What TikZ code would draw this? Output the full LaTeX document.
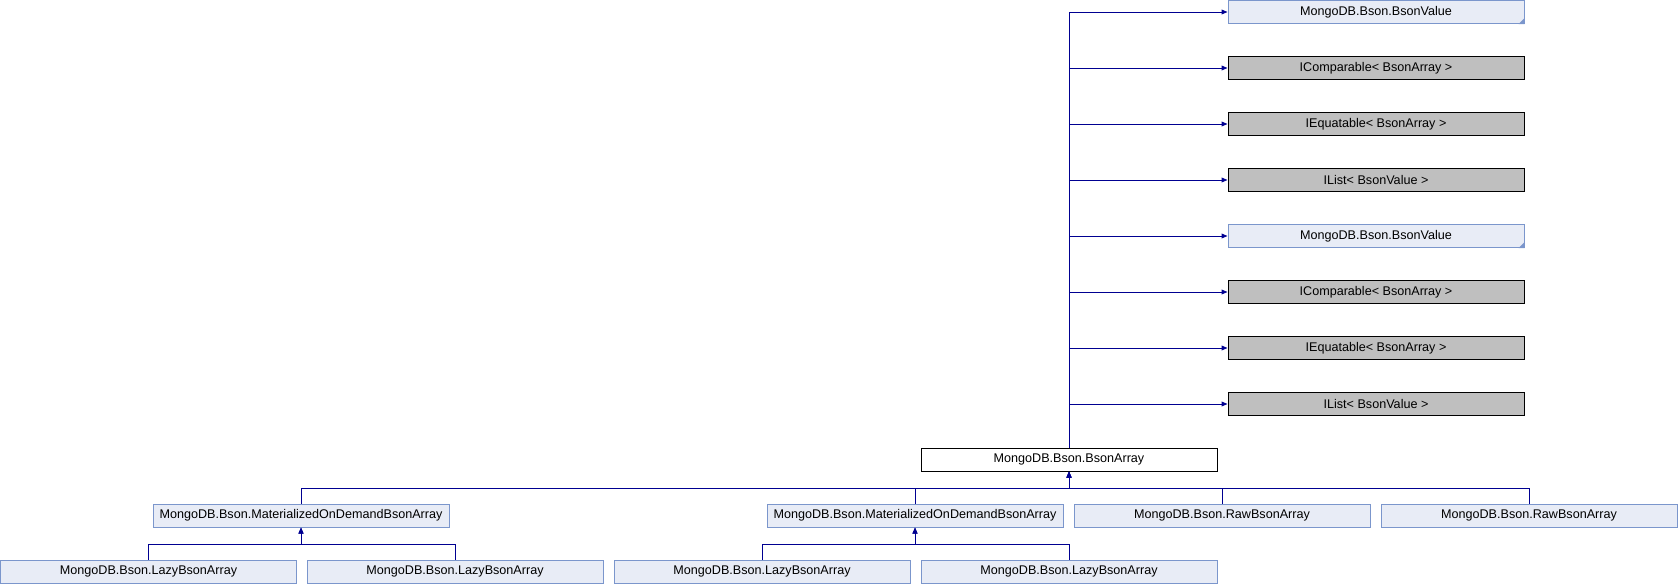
\documentclass[tikz,border=0pt]{standalone}
\usepackage{fontspec}
\setmainfont{Liberation Sans}
\usetikzlibrary{arrows.meta}
\definecolor{classfill}{RGB}{232,236,246}
\definecolor{classline}{RGB}{123,150,204}
\definecolor{extfill}{RGB}{191,191,191}
\definecolor{edgeblue}{RGB}{0,0,145}
\begin{document}
\begin{tikzpicture}[x=.5pt,y=-.5pt,
  classbox/.style={draw=classline,fill=classfill,line width=0.5pt,minimum width=148pt,minimum height=11.5pt,inner sep=0pt,font=\fontsize{6.3}{7.6}\selectfont},
  extbox/.style={classbox,draw=black,fill=extfill},
  mainbox/.style={classbox,draw=black,fill=white},
  inherit/.style={draw=edgeblue,line width=0.5pt,-{Triangle[length=3pt,width=2.4pt]}}]
\path[use as bounding box] (0,0) rectangle (1678,584);
% bases of the array class
\node[classbox] (base1) at (1376,12) {MongoDB.Bson.BsonValue};
\node[extbox] (base2) at (1376,68) {IComparable< BsonArray >};
\node[extbox] (base3) at (1376,124) {IEquatable< BsonArray >};
\node[extbox] (base4) at (1376,180) {IList< BsonValue >};
\node[classbox] (base5) at (1376,236) {MongoDB.Bson.BsonValue};
\node[extbox] (base6) at (1376,292) {IComparable< BsonArray >};
\node[extbox] (base7) at (1376,348) {IEquatable< BsonArray >};
\node[extbox] (base8) at (1376,404) {IList< BsonValue >};
\fill[classline] (base1.south east) -- ++(0,-6) -- ++(-6,6) -- cycle;
\fill[classline] (base5.south east) -- ++(0,-6) -- ++(-6,6) -- cycle;
% the class itself
\node[mainbox] (bsonarray) at (1069,459.5) {MongoDB.Bson.BsonArray};
% derived classes
\node[classbox] (mat1) at (301,515.5) {MongoDB.Bson.MaterializedOnDemandBsonArray};
\node[classbox] (mat2) at (915,515.5) {MongoDB.Bson.MaterializedOnDemandBsonArray};
\node[classbox] (raw1) at (1222,515.5) {MongoDB.Bson.RawBsonArray};
\node[classbox] (raw2) at (1529,515.5) {MongoDB.Bson.RawBsonArray};
\node[classbox] (lazy1) at (148.5,571.5) {MongoDB.Bson.LazyBsonArray};
\node[classbox] (lazy2) at (455,571.5) {MongoDB.Bson.LazyBsonArray};
\node[classbox] (lazy3) at (762,571.5) {MongoDB.Bson.LazyBsonArray};
\node[classbox] (lazy4) at (1069,571.5) {MongoDB.Bson.LazyBsonArray};
\coordinate (bus1) at (0,488);
\coordinate (bus2) at (0,544);
% inheritance edges
\draw[inherit] (bsonarray.north) |- (base1.west);
\draw[inherit] (bsonarray.north) |- (base2.west);
\draw[inherit] (bsonarray.north) |- (base3.west);
\draw[inherit] (bsonarray.north) |- (base4.west);
\draw[inherit] (bsonarray.north) |- (base5.west);
\draw[inherit] (bsonarray.north) |- (base6.west);
\draw[inherit] (bsonarray.north) |- (base7.west);
\draw[inherit] (bsonarray.north) |- (base8.west);
\draw[inherit] (mat1.north) -- (mat1.north |- bus1) -| (bsonarray.south);
\draw[inherit] (mat2.north) -- (mat2.north |- bus1) -| (bsonarray.south);
\draw[inherit] (raw1.north) -- (raw1.north |- bus1) -| (bsonarray.south);
\draw[inherit] (raw2.north) -- (raw2.north |- bus1) -| (bsonarray.south);
\draw[inherit] (lazy1.north) -- (lazy1.north |- bus2) -| (mat1.south);
\draw[inherit] (lazy2.north) -- (lazy2.north |- bus2) -| (mat1.south);
\draw[inherit] (lazy3.north) -- (lazy3.north |- bus2) -| (mat2.south);
\draw[inherit] (lazy4.north) -- (lazy4.north |- bus2) -| (mat2.south);
\end{tikzpicture}
\end{document}
